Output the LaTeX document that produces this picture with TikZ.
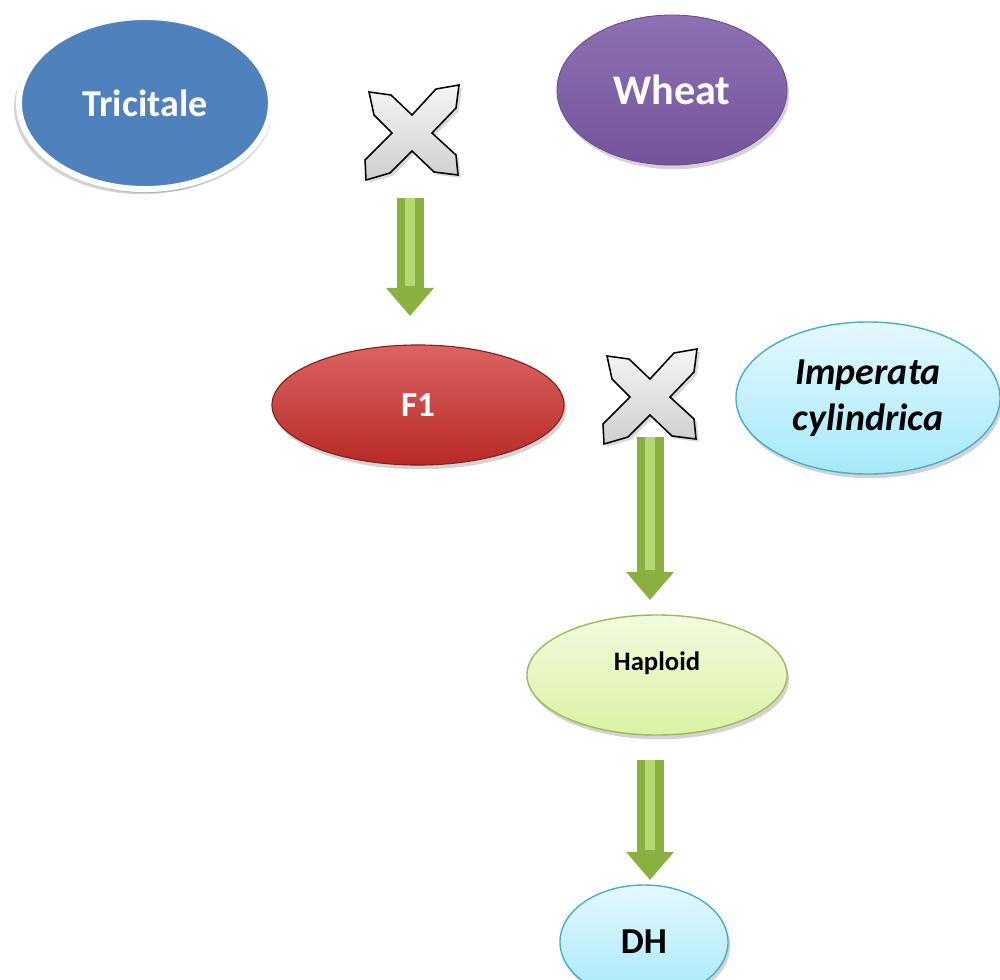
\documentclass[tikz,border=0pt]{standalone}
\usepackage{fontspec}
\setmainfont{Carlito}
\usetikzlibrary{arrows.meta,shapes.geometric,shadows}

\definecolor{triblue}{HTML}{4F81BD}
\definecolor{wheatpurple}{HTML}{7A58A4}
\definecolor{fred}{HTML}{D0302C}
\definecolor{skyfill}{HTML}{A6E9FA}
\definecolor{skyedge}{HTML}{4BACC6}
\definecolor{limefill}{HTML}{DAF2A4}
\definecolor{limeedge}{HTML}{9BBB59}
\definecolor{gdark}{HTML}{89B041}
\definecolor{glight}{HTML}{B3D873}

\begin{document}
\begin{tikzpicture}[x=0.025cm, y=-0.025cm,
    oval/.style={ellipse, draw, inner sep=0pt, align=center,
                 drop shadow={shadow xshift=1.5pt, shadow yshift=-3pt, opacity=0.35}},
    bigtext/.style={font=\fontsize{27}{30}\selectfont\bfseries},
    garrow/.style={draw=gdark, line width=0.675cm, -{Triangle[length=0.7cm, width=1.15cm]}},
    gshine/.style={draw=glight, line width=0.25cm, shorten >=0.75cm},
    cross/.pic={
        \draw[line width=1.1pt, top color=gray!8, bottom color=gray!38,
              drop shadow={shadow xshift=2pt, shadow yshift=-2pt, opacity=0.3}]
            (-43,-41) -- (-21,-38) -- (0,-18) -- (24,-44) -- (47,-48) -- (44,-25)
            -- (20,0) -- (44,22) -- (46,42) -- (22,39) -- (0,18) -- (-22,40)
            -- (-46,47) -- (-47,27) -- (-20,0) -- (-38,-18) -- cycle;
    },
]
\useasboundingbox (0,0) rectangle (1000,980);

\node[oval, bigtext, draw=white, line width=0.15cm, fill=triblue, text=white,
      drop shadow={shadow xshift=-2.5pt, shadow yshift=-3pt, shadow scale=1.01, opacity=0.35},
      minimum width=6.3cm, minimum height=4.3cm] (trit) at (145,103) {Tricitale};
\node[oval, draw=wheatpurple!85!black, line width=0.6pt, text=white,
      font=\fontsize{30}{34}\selectfont\bfseries,
      top color=wheatpurple!85!white, bottom color=wheatpurple!95!black,
      minimum width=5.75cm, minimum height=3.75cm] (wheat) at (672,90) {Wheat};
\node[oval, draw=fred!65!black, line width=0.8pt, text=white,
      font=\fontsize{25}{28}\selectfont\bfseries,
      top color=fred!75!white, bottom color=fred!88!black,
      minimum width=7.3cm, minimum height=3.0cm] (f1) at (418,405) {F1};
\node[oval, draw=skyedge, line width=1pt,
      font=\fontsize{27}{33}\selectfont\bfseries\itshape,
      top color=skyfill!30!white, bottom color=skyfill,
      minimum width=6.6cm, minimum height=3.8cm] (imp) at (868,398) {Imperata\\cylindrica};
\node[oval, draw=limeedge, line width=1pt,
      font=\fontsize{19}{22}\selectfont\bfseries,
      top color=limefill!35!white, bottom color=limefill,
      minimum width=6.5cm, minimum height=3.0cm] (hap) at (657,675) {Haploid\\[-2pt]};
\node[oval, draw=skyedge, line width=1pt,
      font=\fontsize{26}{30}\selectfont\bfseries,
      top color=skyfill!30!white, bottom color=skyfill,
      minimum width=4.2cm, minimum height=2.85cm] (dh) at (644,942) {DH};

\pic (xa) at (412,133) {cross};
\pic (xb) at (650,397) {cross};

\coordinate (a1s) at (410,198);
\coordinate (a1e) at (410,316);
\coordinate (a2s) at (650,437);
\coordinate (a2e) at (650,600);
\coordinate (a3s) at (650,760);
\coordinate (a3e) at (650,880);

\foreach \s/\e in {a1s/a1e, a2s/a2e, a3s/a3e} {
    \draw[garrow] (\s) -- (\e);
    \draw[gshine] (\s) -- (\e);
}
\end{tikzpicture}
\end{document}
